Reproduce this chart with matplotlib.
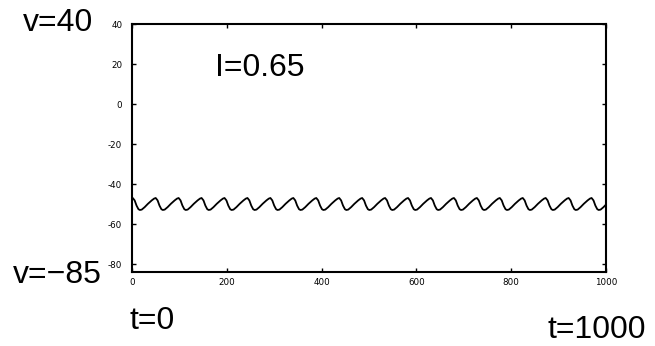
import matplotlib
matplotlib.use("Agg")
import matplotlib.pyplot as plt
import numpy as np

# membrane potential trace, t in 0..1000, v in mV
start_t, start_v = 0.0, -47.3
# times of the small spikes (local maxima)
peak_t = [1.6, 50.0, 98.4, 146.8, 195.2, 243.6, 292.0, 340.4, 388.8, 437.2, 485.6,
          534.0, 582.4, 630.8, 679.2, 727.6, 776.0, 824.4, 872.8, 921.2, 969.6]
# shape of one oscillation cycle, measured from its peak
cycle_dt = [0.0, 4.0, 8.0, 12.0, 15.0, 19.0, 25.0, 32.0, 40.0, 45.0]
cycle_v = [-47.0, -48.2, -50.8, -52.6, -53.0, -52.8, -51.6, -49.9, -48.2, -47.3]

x_ticks = [0, 200, 400, 600, 800, 1000]
y_ticks = [-80, -60, -40, -20, 0, 20, 40]

# assemble the polyline in time order
t_pts = [start_t]
v_pts = [start_v]
for p in peak_t:
    for dt, vv in zip(cycle_dt, cycle_v):
        t_pts.append(p + dt)
        v_pts.append(vv)
t = np.array(t_pts)
v = np.array(v_pts)

plt.rcParams["axes.unicode_minus"] = False
W, H = 655, 346
fig = plt.figure(figsize=(W / 100, H / 100), dpi=100)
ax = fig.add_axes([132 / W, 1 - 272 / H, 474 / W, 248 / H])

ax.plot(t, v, color="black", lw=1.3, solid_joinstyle="round")
ax.set_xlim(0, 1000)
ax.set_ylim(-84, 40)
ax.set_xticks(x_ticks)
ax.set_yticks(y_ticks)
ax.tick_params(direction="in", top=True, right=True, length=3, width=1.0,
               labelsize=6.3, labelfontfamily="DejaVu Sans")
ax.tick_params(axis="x", pad=4.5)
ax.tick_params(axis="y", pad=7)
for s in ax.spines.values():
    s.set_linewidth(1.5)

big = dict(family="Liberation Sans", fontsize=23, va="baseline", ha="left")
fig.text(23 / W, 1 - 31 / H, "v=40", **big)
fig.text(13 / W, 1 - 283 / H, "v=\u221285", **big)
fig.text(215 / W, 1 - 76 / H, "I=0.65", **big)
fig.text(130 / W, 1 - 329 / H, "t=0", **big)
fig.text(547 / W, 1 - 338 / H, "t=1000", **big)

fig.savefig("out.png", dpi=100)
